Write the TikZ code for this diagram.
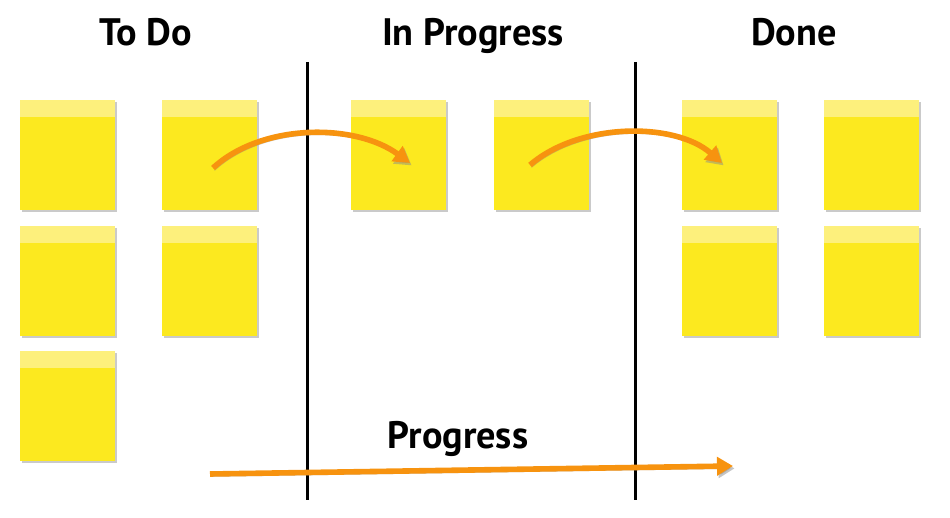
\documentclass[tikz,border=0pt]{standalone}
\usepackage{fontspec}
\setmainfont{PT Sans}
\usetikzlibrary{positioning,calc,arrows.meta,shadows}
\definecolor{notebg}{HTML}{FCE91F}
\definecolor{notetop}{HTML}{FDF07C}
\definecolor{flow}{HTML}{F7930F}

\tikzset{
  note/.style={fill=notebg, minimum width=47.5bp, minimum height=55bp, inner sep=0pt,
    drop shadow={shadow xshift=0.8bp, shadow yshift=-0.8bp, opacity=0.35, fill=black!60},
    path picture={\fill[notetop] (path picture bounding box.north west) rectangle ($(path picture bounding box.north east)+(0,-8.5bp)$);}},
  title/.style={font=\bfseries\fontsize{19.2}{22}\selectfont, inner sep=0pt, anchor=base},
  flowarrow/.style={draw=flow, line width=2.8bp, -{Triangle[length=8bp,width=9bp]},
    preaction={draw=black!45, opacity=0.5, transform canvas={shift={(0.8bp,-1.2bp)}}}},
  divider/.style={line width=1.5bp}
}

\begin{document}
\begin{tikzpicture}[x=0.5bp, y=-0.5bp]
  \useasboundingbox (0,0) rectangle (950,518);

  % column titles
  \node[title] (todoT) at (146,46) {To Do};
  \node[title] (progT) at (473,46) {In Progress};
  \node[title] (doneT) at (794,46) {Done};

  % column dividers
  \draw[divider] (307,62) -- (307,500);
  \draw[divider] (635,62) -- (635,500);

  % To Do notes
  \foreach \i/\xpos/\ypos in {1/67.5/155, 2/209.5/155, 3/67.5/281, 4/209.5/281, 5/67.5/406} {
    \node[note] (todo\i) at (\xpos,\ypos) {};
  }
  % In Progress notes
  \foreach \i/\xpos in {1/398.5, 2/541.5} {
    \node[note] (prog\i) at (\xpos,155) {};
  }
  % Done notes
  \foreach \i/\xpos/\ypos in {1/729.5/155, 2/871.5/155, 3/729.5/281, 4/871.5/281} {
    \node[note] (done\i) at (\xpos,\ypos) {};
  }

  % moves between columns
  \coordinate (moveA) at (213,168);
  \coordinate (moveB) at (410,163);
  \coordinate (moveC) at (530,165);
  \coordinate (moveD) at (722,163);
  \draw[flowarrow] (moveA) .. controls (262,123) and (355,123) .. (moveB);
  \draw[flowarrow] (moveC) .. controls (580,122) and (675,122) .. (moveD);

  % overall progress
  \node[title] (progLbl) at (458,449) {Progress};
  \coordinate (flowS) at (210,474);
  \coordinate (flowE) at (733,466);
  \draw[flowarrow] (flowS) -- (flowE);
\end{tikzpicture}
\end{document}
